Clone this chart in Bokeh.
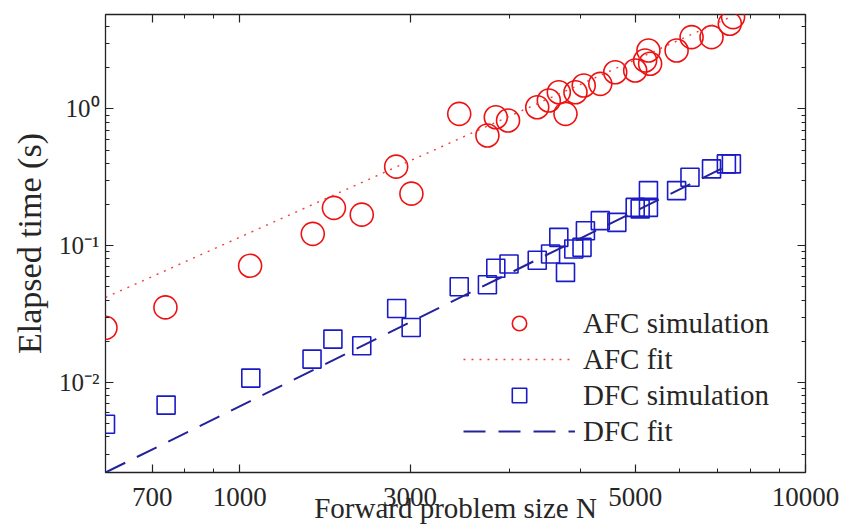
from bokeh.plotting import figure
from bokeh.models import (FixedTicker, LogAxis, Legend, LegendItem,
                          CustomJSTickFormatter, Range1d)
from bokeh.embed import file_html
from bokeh.resources import INLINE

# ---- data ----
afc_N = [579, 739, 1043, 1346, 1467, 1643, 1890, 2011, 2443, 2740, 2835, 2980,
         3356, 3518, 3664, 3765, 3921, 4055, 4338, 4610, 5000, 5206, 5313, 5277,
         5918, 6290, 6822, 7348, 7447]
afc_t = [0.0251, 0.0354, 0.0714, 0.122, 0.189, 0.1685, 0.378, 0.240, 0.919,
         0.638, 0.868, 0.821, 1.027, 1.15, 1.322, 0.919, 1.322, 1.48, 1.523,
         1.852, 1.906, 2.256, 2.134, 2.67, 2.67, 3.34, 3.34, 4.19, 4.68]

dfc_N = [579, 741, 1046, 1342, 1461, 1643, 1894, 2009, 2443, 2740, 2835, 2992,
         3356, 3543, 3664, 3765, 3894, 4027, 4083, 4338, 4640, 5000, 5102, 5277,
         5277, 5918, 6249, 6822, 7247, 7396]
dfc_t = [0.00496, 0.00684, 0.01077, 0.01483, 0.02077, 0.01855, 0.03478, 0.02526,
         0.0501, 0.0518, 0.0684, 0.0735, 0.0783, 0.0870, 0.1150, 0.0638, 0.0946,
         0.0972, 0.1287, 0.1524, 0.1481, 0.1906, 0.1856, 0.1906, 0.2526, 0.2526,
         0.3160, 0.364, 0.396, 0.396]

afc_fit_N = [579, 7447]
afc_fit_t = [0.0418, 4.78]
dfc_fit_N = [579, 7447]
dfc_fit_t = [0.0022, 0.402]

x_tick_values = [700, 1000, 2000, 5000, 10000]
x_tick_labels = ["700", "1000", "3000", "5000", "10000"]
x_minor_values = [800, 900, 3000, 4000, 6000, 7000, 8000, 9000]
y_tick_values = [0.01, 0.1, 1]
y_tick_labels = ["10\u207b\u00b2", "10\u207b\u00b9", "10\u2070"]
y_minor_values = [0.003, 0.004, 0.005, 0.006, 0.007, 0.008, 0.009,
                  0.02, 0.03, 0.04, 0.05, 0.06, 0.07, 0.08, 0.09,
                  0.2, 0.3, 0.4, 0.5, 0.6, 0.7, 0.8, 0.9, 2, 3, 4]

FONT = "Liberation Serif"
TXT = "#262626"
RED = "#ee1111"
BLUE = "#1a1ac8"

p = figure(width=842, height=530, x_axis_type="log", y_axis_type="log",
           x_range=Range1d(579, 10000), y_range=Range1d(0.0022, 4.89),
           output_backend="svg", toolbar_location=None,
           min_border_left=105, min_border_right=37, min_border_top=14,
           min_border_bottom=58)
p.grid.visible = False
p.outline_line_color = "#222222"
p.outline_line_width = 1.3
p.background_fill_color = "white"

xt = FixedTicker(ticks=x_tick_values, minor_ticks=x_minor_values)
yt = FixedTicker(ticks=y_tick_values, minor_ticks=y_minor_values)

def style(ax):
    ax.axis_line_color = None
    ax.major_tick_in = 8
    ax.major_tick_out = 0
    ax.minor_tick_in = 4
    ax.minor_tick_out = 0
    ax.major_tick_line_color = "#222222"
    ax.minor_tick_line_color = "#222222"
    ax.major_tick_line_width = 1.2
    ax.minor_tick_line_width = 1
    ax.major_label_text_font = FONT
    ax.major_label_text_color = TXT
    ax.axis_label_text_font = FONT
    ax.axis_label_text_font_style = "normal"
    ax.axis_label_text_color = TXT

xa = p.xaxis[0]
xa.ticker = xt
style(xa)
xa.major_label_overrides = dict(zip(x_tick_values, x_tick_labels))
xa.major_label_text_font_size = "27px"
xa.major_label_standoff = 15
xa.axis_label = "Forward problem size N"
xa.axis_label_text_font_size = "29px"
xa.axis_label_standoff = -17

ya = p.yaxis[0]
ya.ticker = yt
style(ya)
ya.major_label_overrides = dict(zip(y_tick_values, y_tick_labels))
ya.major_label_text_font_size = "25px"
ya.major_label_standoff = 6
ya.axis_label = "Elapsed time (s)"
ya.axis_label_text_font_size = "34px"
ya.axis_label_standoff = 8

blank = CustomJSTickFormatter(code="return ''")
top = LogAxis(ticker=xt, formatter=blank, major_label_standoff=0)
style(top)
right = LogAxis(ticker=yt, formatter=blank, major_label_standoff=0)
style(right)
p.add_layout(top, "above")
p.add_layout(right, "right")

r_afc = p.scatter(afc_N, afc_t, marker="circle", size=23, fill_color=None,
                  line_color=RED, line_width=1.6)
r_afc_fit = p.line(afc_fit_N, afc_fit_t, line_color="#f04040", line_width=1.4,
                   line_dash="2 6")
r_dfc = p.scatter(dfc_N, dfc_t, marker="square", size=18, fill_color=None,
                  line_color=BLUE, line_width=1.6)
r_dfc_fit = p.line(dfc_fit_N, dfc_fit_t, line_color="#23239a", line_width=2,
                   line_dash="22 13")

legend = Legend(items=[
    LegendItem(label="AFC simulation", renderers=[r_afc]),
    LegendItem(label="AFC fit", renderers=[r_afc_fit]),
    LegendItem(label="DFC simulation", renderers=[r_dfc]),
    LegendItem(label="DFC fit", renderers=[r_dfc_fit]),
], location=(358, 23))
legend.glyph_width = 112
legend.glyph_height = 36
legend.spacing = 0
legend.label_standoff = 8
legend.label_height = 36
legend.padding = 0
legend.margin = 0
legend.background_fill_alpha = 0
legend.border_line_alpha = 0
legend.label_text_font = FONT
legend.label_text_font_size = "29px"
legend.label_text_color = TXT
p.add_layout(legend, "center")

open("out.html", "w").write(file_html(p, INLINE))
